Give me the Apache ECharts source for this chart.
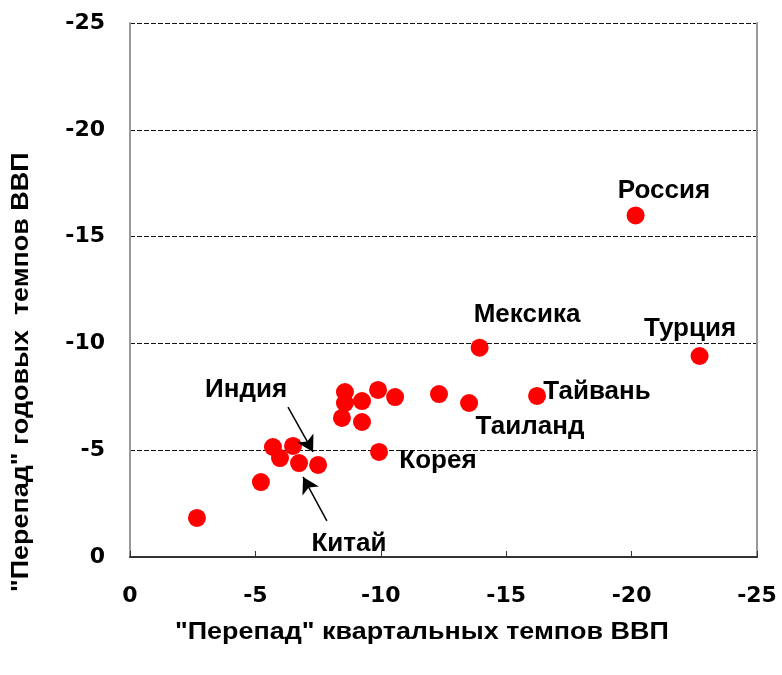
<!DOCTYPE html>
<html>
<head>
<meta charset="utf-8">
<script src="https://cdn.jsdelivr.net/npm/echarts@6/dist/echarts.min.js"></script>
<style>
  html, body { margin: 0; padding: 0; background: #fff; }
  #chart { width: 782px; height: 675px; }
</style>
</head>
<body>
<div id="chart"></div>
<script>
// "перепад" квартальных (x) и годовых (y) темпов ВВП
var quarterGap = [-2.67, -5.22, -5.70, -5.98, -6.50, -6.74, -7.50, -8.45, -8.57, -8.57, -9.25,
                  -9.25, -9.89, -9.93, -10.57, -12.32, -13.52, -13.94, -16.23, -20.16, -22.71];
var yearGap    = [-1.83, -3.51, -5.15, -4.63, -5.20, -4.40, -4.31, -6.51, -7.72, -7.21, -7.30,
                  -6.32, -7.82, -4.92, -7.49, -7.63, -7.21, -9.80, -7.54, -15.99, -9.41];

// подписи стран (центр текста в координатах осей)
var labelNames = ['Россия', 'Турция', 'Мексика', 'Тайвань', 'Таиланд', 'Корея', 'Индия', 'Китай'];
var labelX     = [-21.29, -22.33, -15.83, -18.62, -15.95, -12.28, -4.63, -8.73];
var labelY     = [-17.12, -10.68, -11.33, -7.73, -6.08, -4.50, -7.83, -0.63];

// стрелки: [x0, y0, x1, y1]
var arrows = [
    [-6.30, -7.02, -7.30, -4.92],  // Индия
    [-7.85, -1.69, -6.90, -3.75]   // Китай
];

var points = quarterGap.map(function (x, i) { return [x, yearGap[i]]; });
var labels = labelNames.map(function (n, i) { return { name: n, value: [labelX[i], labelY[i]] }; });
var arrowLines = arrows.map(function (a) {
    return [{ coord: [a[0], a[1]] }, { coord: [a[2], a[3]] }];
});

var font = 'Liberation Sans, Arial, sans-serif';
var tickFont = 'DejaVu Sans, sans-serif';
var chart = echarts.init(document.getElementById('chart'));

var option = {
    backgroundColor: '#fff',
    animation: false,
    grid: { left: 130, right: 25, top: 23, bottom: 118 },
    xAxis: {
        type: 'value',
        inverse: true,
        min: -25,
        max: 0,
        interval: 5,
        axisLine: { show: true, lineStyle: { color: '#333', width: 2 } },
        axisTick: { show: true, inside: true, length: 6, lineStyle: { color: '#333', width: 1 } },
        axisLabel: { margin: 28, fontFamily: tickFont, fontWeight: 'bold', fontSize: 22, color: '#000' },
        splitLine: { show: false }
    },
    yAxis: [{
        type: 'value',
        inverse: true,
        min: -25,
        max: 0,
        interval: 5,
        axisLine: { show: true, lineStyle: { color: '#999', width: 2 } },
        axisTick: { show: false },
        axisLabel: { margin: 25, fontFamily: tickFont, fontWeight: 'bold', fontSize: 22, color: '#000' },
        splitLine: { show: true, lineStyle: { color: '#111', type: [5, 2], width: 1 } }
    }, {
        type: 'value',
        position: 'right',
        inverse: true,
        min: -25,
        max: 0,
        interval: 5,
        axisLine: { show: true, onZero: false, lineStyle: { color: '#999', width: 2 } },
        axisTick: { show: false },
        axisLabel: { show: false },
        splitLine: { show: false }
    }],
    graphic: [{
        type: 'text',
        x: 175,
        y: 621,
        scaleX: 1.17,
        style: {
            text: '"Перепад" квартальных темпов ВВП',
            font: 'bold 23px ' + font,
            fill: '#000'
        }
    }, {
        type: 'text',
        x: 10,
        y: 592,
        rotation: Math.PI / 2,
        scaleX: 1.17,
        style: {
            text: '"Перепад" годовых  темпов ВВП',
            font: 'bold 23px ' + font,
            fill: '#000',
            align: 'left',
            verticalAlign: 'top'
        }
    }],
    series: [{
        type: 'scatter',
        data: points,
        symbolSize: 18,
        itemStyle: { color: '#ff0000', opacity: 1 },
        z: 3
    }, {
        type: 'scatter',
        data: labels,
        symbolSize: 0,
        silent: true,
        itemStyle: { opacity: 1 },
        label: {
            show: true,
            position: 'inside',
            formatter: '{b}',
            fontFamily: font,
            fontWeight: 'bold',
            fontSize: 26,
            color: '#000'
        },
        markLine: {
            silent: true,
            symbol: ['none', 'arrow'],
            symbolSize: [14, 16],
            label: { show: false },
            lineStyle: { color: '#000', width: 1.5, type: 'solid', opacity: 1 },
            data: arrowLines
        },
        z: 4
    }]
};

chart.setOption(option);
</script>
</body>
</html>
